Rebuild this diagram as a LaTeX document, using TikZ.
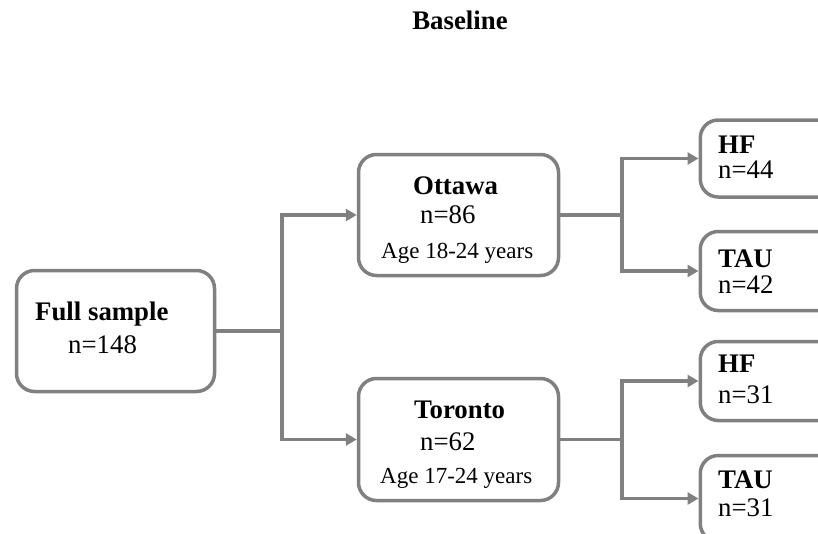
\documentclass[tikz,border=0pt]{standalone}
\usepackage{fontspec}
\setmainfont{Liberation Serif}
\usetikzlibrary{arrows.meta}
\definecolor{linegray}{HTML}{808080}
\tikzset{
  box/.style={draw=linegray, line width=3.5pt, rounded corners=18pt, fill=white, inner sep=0pt},
  conn/.style={draw=linegray, line width=3.5pt},
  arr/.style={conn, -{Triangle[length=11pt,width=12pt]}},
  txt/.style={anchor=base west, inner sep=0pt, font=\fontsize{26.8}{30}\selectfont},
  btxt/.style={txt, font=\fontsize{26.8}{30}\selectfont\bfseries},
  stxt/.style={txt, font=\fontsize{23}{27}\selectfont},
}
\begin{document}
\begin{tikzpicture}[x=1pt,y=-1pt]
\useasboundingbox (0,0) rectangle (818,533);
\clip (0,0) rectangle (818,533);
% title
\node[btxt, anchor=base] (title) at (460,29) {Baseline};
% boxes
\node[box, minimum width=198pt, minimum height=121pt] (full) at (115.5,331) {};
\node[box, minimum width=200pt, minimum height=121pt] (ottawa) at (458.5,215) {};
\node[box, minimum width=200pt, minimum height=122pt] (toronto) at (458.5,439.5) {};
\node[box, minimum width=160pt, minimum height=77pt, anchor=west] (hf1) at (698.5,158.5) {};
\node[box, minimum width=160pt, minimum height=79pt, anchor=west] (tau1) at (698.5,271) {};
\node[box, minimum width=160pt, minimum height=79pt, anchor=west] (hf2) at (698.5,381) {};
\node[box, minimum width=160pt, minimum height=86pt, anchor=west] (tau2) at (698.5,498.5) {};
% texts
\node[btxt] (t1) at (35,320) {Full sample};
\node[txt] (t2) at (68,353) {n=148};
\node[btxt] (t3) at (413,194) {Ottawa};
\node[txt] (t4) at (420,223) {n=86};
\node[stxt] (t5) at (381,258) {Age 18-24 years};
\node[btxt] (t6) at (414,418) {Toronto};
\node[txt] (t7) at (420,450) {n=62};
\node[stxt] (t8) at (380,483) {Age 17-24 years};
\node[btxt] (t9) at (718,153) {HF};
\node[txt] (t10) at (718,178) {n=44};
\node[btxt] (t11) at (718,267) {TAU};
\node[txt] (t12) at (718,293) {n=42};
\node[btxt] (t13) at (718,372) {HF};
\node[txt] (t14) at (718,403) {n=31};
\node[btxt] (t15) at (718,488) {TAU};
\node[txt] (t16) at (718,516) {n=31};
% connectors
\coordinate (j1) at (282,331);
\coordinate (j2) at (622,215);
\coordinate (j3) at (622,439.5);
\draw[conn] (full.east) -- (j1);
\draw[arr] (j1) |- (ottawa.west);
\draw[arr] (j1) |- (toronto.west);
\draw[conn] (ottawa.east) -- (j2);
\draw[arr] (j2) |- (hf1.west);
\draw[arr] (j2) |- (tau1.west);
\draw[conn] (toronto.east) -- (j3);
\draw[arr] (j3) |- (hf2.west);
\draw[arr] (j3) |- (tau2.west);
\end{tikzpicture}
\end{document}
